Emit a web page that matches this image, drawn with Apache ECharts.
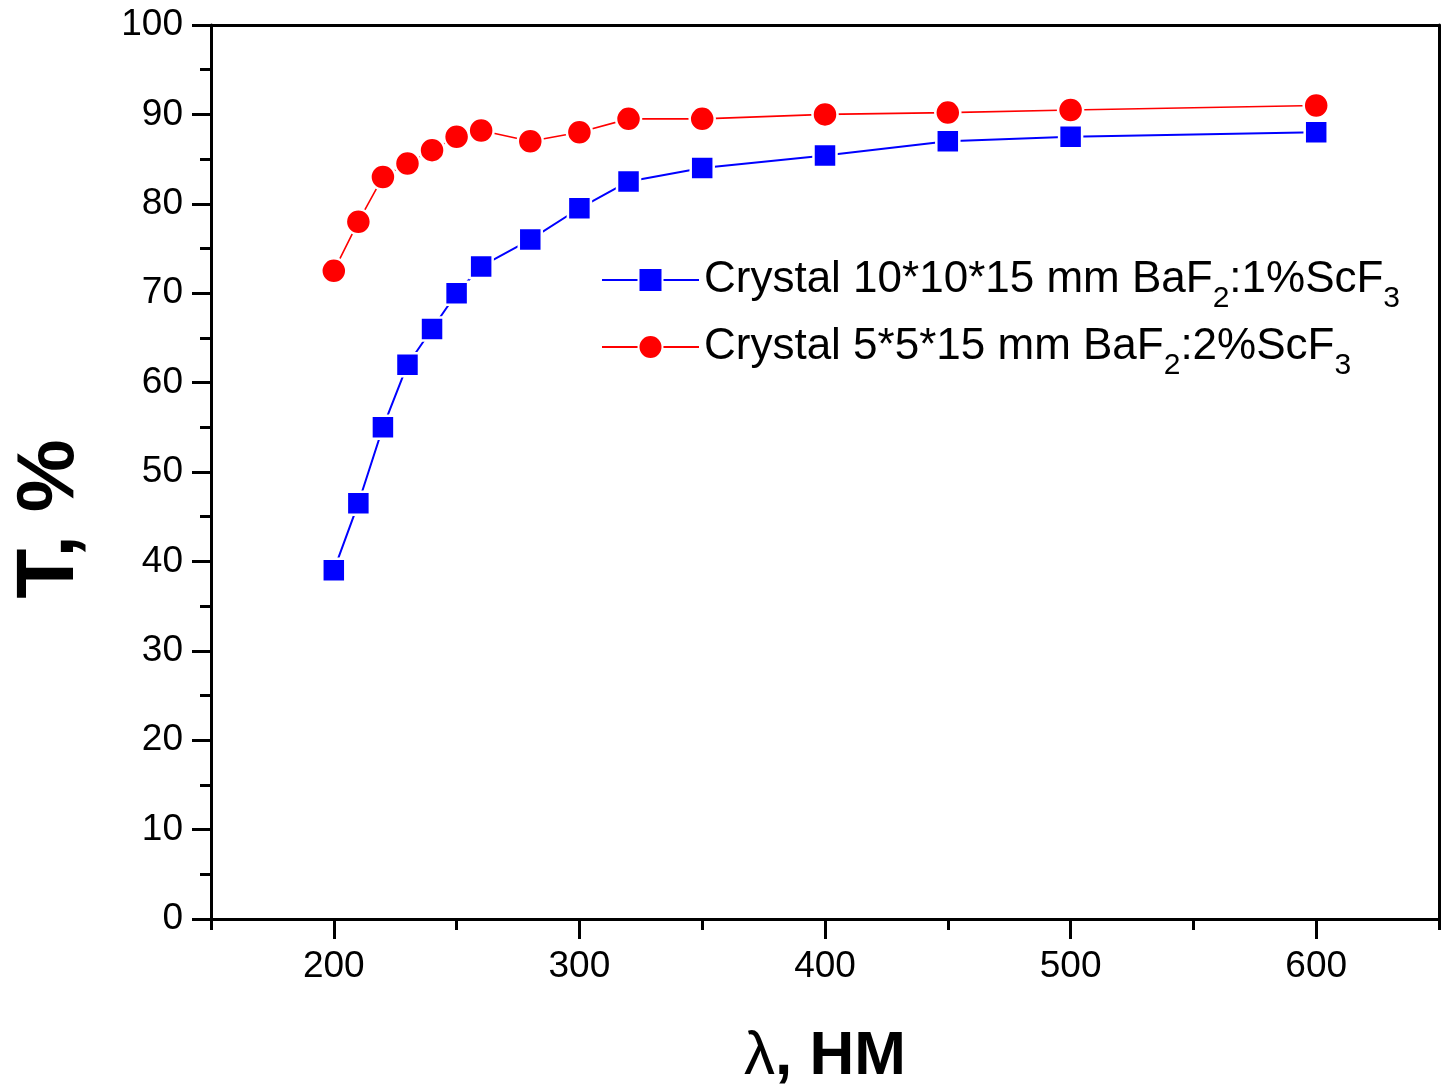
<!DOCTYPE html>
<html>
<head>
<meta charset="utf-8">
<script src="https://cdn.jsdelivr.net/npm/echarts@6/dist/echarts.min.js"></script>
<style>
  html, body { margin: 0; padding: 0; background: #fff; }
  #chart { width: 1441px; height: 1088px; }
</style>
</head>
<body>
<div id="chart"></div>
<script>
// Wavelength, nm
const wavelengths = [200, 210, 220, 230, 240, 250, 260, 280, 300, 320, 350, 400, 450, 500, 600];
// Transmission, %
const crystalA = [39, 46.5, 55, 62, 66, 70, 73, 76, 79.5, 82.5, 84, 85.4, 87, 87.5, 88];
const crystalB = [72.5, 78, 83, 84.5, 86, 87.5, 88.2, 87, 88, 89.5, 89.5, 90, 90.2, 90.5, 91];
const seriesNames = ['Crystal 10*10*15 mm BaF2:1%ScF3', 'Crystal 5*5*15 mm BaF2:2%ScF3'];
const xLabelValues = [200, 300, 400, 500, 600];

const FONT = '"Liberation Sans", Arial, Helvetica, sans-serif';

const pairs = (ys) => wavelengths.map((x, i) => [x, ys[i]]);

const chart = echarts.init(document.getElementById('chart'), null, { renderer: 'canvas' });

const axisLineStyle = { color: '#000', width: 3 };
const tickStyle = { color: '#000', width: 3 };

chart.setOption({
  backgroundColor: '#fff',
  animation: false,
  grid: { left: 211, right: 2, top: 25, bottom: 169, containLabel: false, outerBoundsMode: 'none' },
  legend: {
    left: 601,
    top: 258,
    padding: 0,
    orient: 'vertical',
    itemWidth: 97,
    itemHeight: 30,
    itemGap: 11,
    data: seriesNames,
    // chemical formula digits set as subscripts
    formatter: (name) => '{m|' + name.replace(/F(\d)/g, 'F}{s|$1}{m|') + '}',
    textStyle: {
      rich: {
        m: { fontFamily: FONT, fontSize: 44, lineHeight: 68, color: '#000' },
        s: { fontFamily: FONT, fontSize: 30, lineHeight: 10, verticalAlign: 'bottom', color: '#000' }
      }
    }
  },
  xAxis: [
    {
      // frame line, labels and long ticks every 100 nm
      type: 'value', position: 'bottom', min: 150, max: 650, interval: 50,
      name: '{l|λ}{b|, НМ}', nameLocation: 'middle', nameGap: 107,
      nameTextStyle: {
        rich: {
          l: { fontFamily: FONT, fontSize: 62, color: '#000' },
          b: { fontFamily: FONT, fontSize: 62, fontWeight: 'bold', color: '#000' }
        }
      },
      axisLine: { show: true, onZero: false, lineStyle: axisLineStyle },
      axisTick: { show: true, inside: false, length: 20, customValues: xLabelValues, lineStyle: tickStyle },
      axisLabel: {
        margin: 29, fontFamily: FONT, fontSize: 37, color: '#000', customValues: xLabelValues
      },
      splitLine: { show: false }
    },
    {
      // short ticks at 150, 250, ... 650
      type: 'value', position: 'bottom', min: 150, max: 650, interval: 100,
      axisLine: { show: false, onZero: false },
      axisTick: { show: true, inside: false, length: 11, lineStyle: tickStyle },
      axisLabel: { show: false },
      splitLine: { show: false }
    },
    {
      type: 'value', position: 'top', min: 150, max: 650, interval: 50,
      axisLine: { show: true, onZero: false, lineStyle: axisLineStyle },
      axisTick: { show: false }, axisLabel: { show: false }, splitLine: { show: false }
    }
  ],
  yAxis: [
    {
      type: 'value', position: 'left', min: 0, max: 100, interval: 10,
      name: 'T, %', nameLocation: 'middle', nameGap: 120, nameRotate: 90,
      nameTextStyle: { fontFamily: FONT, fontSize: 82, fontWeight: 'bold', color: '#000', padding: [0, 94, 0, 0] },
      axisLine: { show: true, onZero: false, lineStyle: axisLineStyle },
      axisTick: { show: true, inside: false, length: 19, lineStyle: tickStyle },
      minorTick: { show: true, splitNumber: 2, length: 11, lineStyle: tickStyle },
      axisLabel: { margin: 28, fontFamily: FONT, fontSize: 37, color: '#000' },
      splitLine: { show: false }
    },
    {
      type: 'value', position: 'right', min: 0, max: 100, interval: 10,
      axisLine: { show: true, onZero: false, lineStyle: axisLineStyle },
      axisTick: { show: false }, axisLabel: { show: false }, splitLine: { show: false }
    }
  ],
  series: [
    {
      name: seriesNames[0], type: 'line', xAxisIndex: 0, yAxisIndex: 0,
      data: pairs(crystalA),
      symbol: 'rect', symbolSize: 23,
      lineStyle: { color: '#0000ff', width: 2 },
      itemStyle: { color: '#0000ff', borderColor: '#fff', borderWidth: 2.5 },
      z: 3
    },
    {
      name: seriesNames[1], type: 'line', xAxisIndex: 0, yAxisIndex: 0,
      data: pairs(crystalB),
      symbol: 'circle', symbolSize: 25,
      lineStyle: { color: '#ff0000', width: 1.6 },
      itemStyle: { color: '#ff0000', borderColor: '#fff', borderWidth: 2.5 },
      z: 4
    }
  ]
});
</script>
</body>
</html>
